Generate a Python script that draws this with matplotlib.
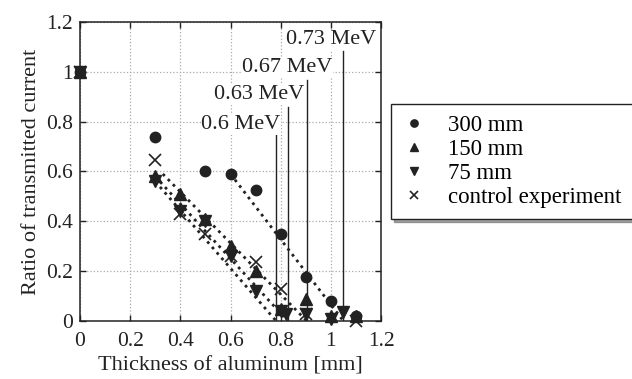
import matplotlib
matplotlib.use('Agg')
import matplotlib.pyplot as plt
from matplotlib.ticker import FormatStrFormatter, MultipleLocator
import numpy as np

plt.rcParams['font.family'] = ['Liberation Serif', 'DejaVu Serif']

# measured points
x_300 = [0, 0.3, 0.5, 0.6, 0.7, 0.8, 0.9, 1.0, 1.1]
y_300 = [1, 0.74, 0.60, 0.59, 0.525, 0.35, 0.175, 0.08, 0.02]

x_150 = [0, 0.3, 0.4, 0.5, 0.6, 0.7, 0.8, 0.9, 1.0, 1.1]
y_150 = [1, 0.58, 0.51, 0.41, 0.30, 0.20, 0.05, 0.09, 0.02, 0.02]

x_75 = [0, 0.3, 0.4, 0.5, 0.6, 0.7, 0.8, 0.82, 0.9, 1.0, 1.05]
y_75 = [1, 0.56, 0.44, 0.40, 0.26, 0.12, 0.04, 0.03, 0.03, 0.01, 0.035]

x_ctrl = [0, 0.3, 0.4, 0.5, 0.6, 0.7, 0.8, 0.9, 1.1]
y_ctrl = [1, 0.645, 0.43, 0.35, 0.26, 0.235, 0.13, 0.03, 0.0]

# dotted fit lines: start point and x-intercept
fit_x0 = [0.3, 0.3, 0.33, 0.6]
fit_y0 = [0.56, 0.58, 0.59, 0.59]
fit_xint = [0.782, 0.828, 0.904, 1.05]

# energy markers
energies = ['0.6 MeV', '0.63 MeV', '0.67 MeV', '0.73 MeV']
energy_x = [0.782, 0.828, 0.904, 1.05]
energy_top = [0.747, 0.857, 0.968, 1.082]
label_right = [0.80, 0.895, 1.006, 1.181]
label_y = [0.787, 0.908, 1.016, 1.128]

fig = plt.figure(figsize=(6.32, 3.79), dpi=100)
ax = fig.add_axes([0.1266, 0.153, 0.4763, 0.789])

col = '#222222'
ax.grid(True, linestyle=':', color='#aaaaaa', linewidth=0.9)
ax.set_axisbelow(True)

for x0, y0, xi in zip(fit_x0, fit_y0, fit_xint):
    ax.plot([x0, xi], [y0, 0], linestyle=(0, (1, 1.6)), color=col, lw=2.0)

for xe, top in zip(energy_x, energy_top):
    ax.plot([xe, xe], [0, top], color=col, lw=1.0)

for lab, xr, yl in zip(energies, label_right, label_y):
    ax.text(xr, yl, lab, ha='right', va='center', fontsize=16, color='#222222',
            bbox=dict(fc='white', ec='none', pad=0.5))

ms = 7.5
ax.plot(x_300, y_300, 'o', color=col, ms=ms, ls='none', label='300 mm', clip_on=False)
ax.plot(x_150, y_150, '^', color=col, ms=ms + 0.5, ls='none', label='150 mm', clip_on=False)
ax.plot(x_75, y_75, 'v', color=col, ms=ms + 0.5, ls='none', label='75 mm', clip_on=False)
ax.plot(x_ctrl, y_ctrl, 'x', color=col, ms=ms + 1.5, mew=1.2, ls='none',
        label='control experiment', clip_on=False)

ax.set_xlim(0, 1.2)
ax.set_ylim(0, 1.2)
ax.xaxis.set_major_locator(MultipleLocator(0.2))
ax.yaxis.set_major_locator(MultipleLocator(0.2))
ax.xaxis.set_major_formatter(FormatStrFormatter('%g'))
ax.yaxis.set_major_formatter(FormatStrFormatter('%g'))
ax.tick_params(direction='in', top=True, right=True, length=4, width=1,
               labelsize=15.5, colors='#222222')
ax.tick_params(axis='x', pad=8)
ax.tick_params(axis='y', pad=5)
for s in ax.spines.values():
    s.set_linewidth(1.1)
    s.set_color(col)

ax.set_xlabel('Thickness of aluminum [mm]', fontsize=16, color='#222222', labelpad=4)
ax.set_ylabel('Ratio of transmitted current', fontsize=16, color='#222222', labelpad=4)

handles, labels = ax.get_legend_handles_labels()
leg = fig.legend(handles, labels, loc='upper left', bbox_to_anchor=(0.619, 0.726),
                 fontsize=16.5, frameon=True, fancybox=False, shadow=True,
                 markerscale=0.7, handlelength=1.0, handletextpad=1.0,
                 labelspacing=0.12, borderpad=0.5, borderaxespad=0)
leg.get_frame().set_edgecolor(col)
leg.get_frame().set_linewidth(1.0)

plt.savefig('out.png', dpi=100)
